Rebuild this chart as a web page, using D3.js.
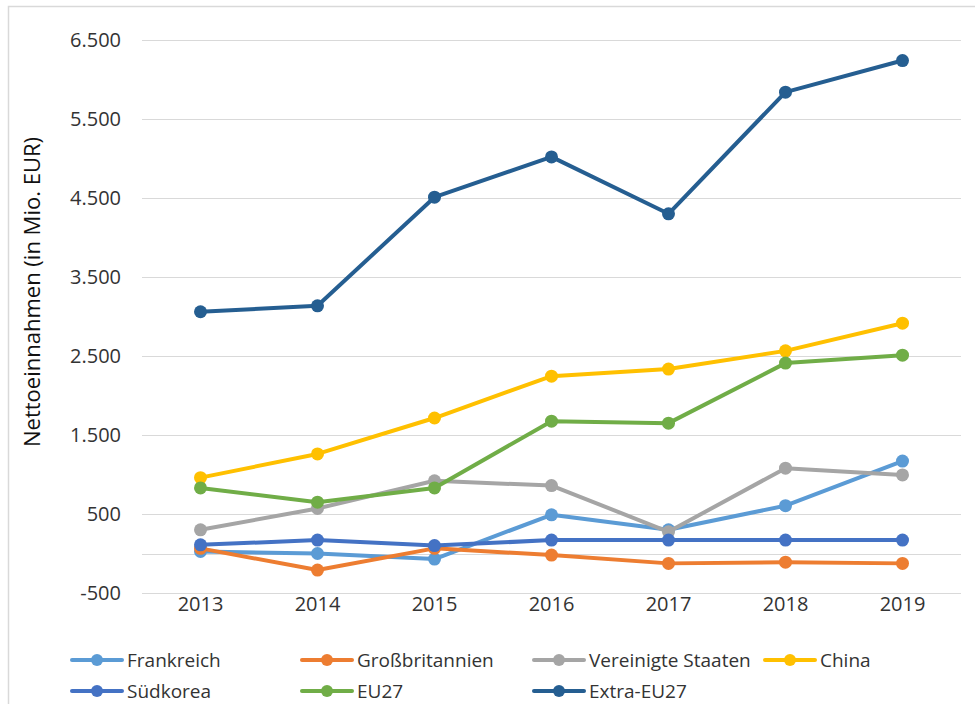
<!DOCTYPE html>
<html>
<head>
<meta charset="utf-8">
<script src="https://cdn.jsdelivr.net/npm/d3@7"></script>
<style>
  html, body { margin: 0; padding: 0; background: #fff; }
  text { font-family: "Open Sans", "Noto Sans", sans-serif; fill: #333; }
</style>
</head>
<body>
<svg id="chart" width="975" height="704"></svg>
<script>
const years = ["2013", "2014", "2015", "2016", "2017", "2018", "2019"];
const seriesNames = ["Frankreich", "Großbritannien", "Vereinigte Staaten", "China", "Südkorea", "EU27", "Extra-EU27"];
const frankreich      = [25, 0, -70, 490, 300, 605, 1170];
const grossbritannien = [65, -210, 65, -20, -125, -110, -125];
const vereinigteStaaten = [300, 570, 920, 860, 275, 1080, 995];
const china           = [960, 1260, 1715, 2245, 2335, 2565, 2915];
const suedkorea       = [110, 170, 100, 170, 170, 170, 170];
const eu27            = [830, 650, 830, 1675, 1650, 2410, 2510];
const extraEU27       = [3060, 3135, 4510, 5020, 4300, 5840, 6240];
const seriesValues = [frankreich, grossbritannien, vereinigteStaaten, china, suedkorea, eu27, extraEU27];
const colors = ["#5B9BD5", "#ED7D31", "#A5A5A5", "#FFC000", "#4472C4", "#70AD47", "#255E91"];
const yTicks = [-500, 500, 1500, 2500, 3500, 4500, 5500, 6500];
const yTickLabels = ["-500", "500", "1.500", "2.500", "3.500", "4.500", "5.500", "6.500"];
const yTitle = "Nettoeinnahmen (in Mio. EUR)";

const svg = d3.select("#chart");
const plot = { left: 142, right: 961, top: 40, bottom: 593 };

// chart border
svg.append("path")
  .attr("d", "M8.5,704 L8.5,6.5 L975,6.5")
  .attr("fill", "none").attr("stroke", "#D9D9D9").attr("stroke-width", 1.5);

const x = d3.scaleBand().domain(years).range([plot.left, plot.right]);
const y = d3.scaleLinear().domain([-500, 6500]).range([plot.bottom, plot.top]);

// gridlines
svg.append("g").selectAll("line").data(yTicks).join("line")
  .attr("x1", plot.left).attr("x2", plot.right)
  .attr("y1", d => Math.round(y(d)) + 0.5).attr("y2", d => Math.round(y(d)) + 0.5)
  .attr("stroke", "#D9D9D9").attr("stroke-width", 1);

// zero axis line
svg.append("line")
  .attr("x1", plot.left).attr("x2", plot.right)
  .attr("y1", Math.round(y(0)) + 0.5).attr("y2", Math.round(y(0)) + 0.5)
  .attr("stroke", "#D9D9D9").attr("stroke-width", 1.2);

// y axis labels
const yAxis = d3.axisLeft(y).tickValues(yTicks).tickSize(0).tickPadding(0)
  .tickFormat((d, i) => yTickLabels[i]);
const gy = svg.append("g").attr("transform", `translate(121,0)`).call(yAxis);
gy.select(".domain").remove();
gy.selectAll("text").attr("font-size", 20).attr("fill", "#333")
  .style("font-family", '"Open Sans", sans-serif');

// x axis labels
const xAxis = d3.axisBottom(x).tickSize(0).tickPadding(0);
const gx = svg.append("g").attr("transform", `translate(0,${plot.bottom + 4})`).call(xAxis);
gx.select(".domain").remove();
gx.selectAll("text").attr("font-size", 20).attr("fill", "#333")
  .style("font-family", '"Open Sans", sans-serif');

// y title
svg.append("text")
  .attr("transform", `translate(40,292) rotate(-90)`)
  .attr("text-anchor", "middle").attr("font-size", 22)
  .style("fill", "#111")
  .text(yTitle);

// lines
const line = d3.line().x((d, i) => x(years[i]) + x.bandwidth() / 2).y(d => y(d));
seriesValues.forEach((vals, si) => {
  const g = svg.append("g");
  g.append("path").datum(vals).attr("d", line)
    .attr("fill", "none").attr("stroke", colors[si]).attr("stroke-width", 4)
    .attr("stroke-linejoin", "round").attr("stroke-linecap", "round");
  g.selectAll("circle").data(vals).join("circle")
    .attr("cx", (d, i) => x(years[i]) + x.bandwidth() / 2)
    .attr("cy", d => y(d)).attr("r", 6.5).attr("fill", colors[si]);
});

// legend
const legendPos = [[72, 660], [302, 660], [534, 660], [765, 660], [72, 691], [302, 691], [534, 691]];
seriesNames.forEach((name, i) => {
  const [lx, ly] = legendPos[i];
  const g = svg.append("g").attr("transform", `translate(${lx},${ly})`);
  g.append("line").attr("x1", 0).attr("x2", 50).attr("y1", 0).attr("y2", 0)
    .attr("stroke", colors[i]).attr("stroke-width", 4).attr("stroke-linecap", "round");
  g.append("circle").attr("cx", 25).attr("cy", 0).attr("r", 6).attr("fill", colors[i]);
  g.append("text").attr("x", 55).attr("y", 0).attr("dy", "0.35em")
    .attr("font-size", 19).style("fill", "#333").text(name);
});
</script>
</body>
</html>
